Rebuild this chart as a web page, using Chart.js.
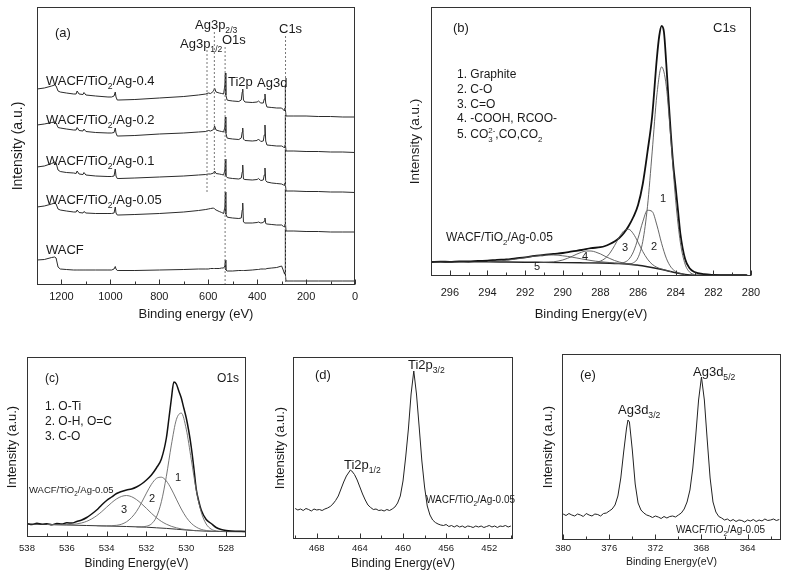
<!DOCTYPE html>
<html><head><meta charset="utf-8">
<script src="https://cdn.jsdelivr.net/npm/chart.js@4"></script>
<style>
html,body{margin:0;padding:0;background:#fff;}
body{width:788px;height:575px;position:relative;overflow:hidden;}
canvas{position:absolute;}
</style></head><body>
<canvas id="ca" width="370" height="325" style="left:0;top:0"></canvas>
<canvas id="cb" width="418" height="325" style="left:370px;top:0"></canvas>
<canvas id="cc" width="262" height="245" style="left:0;top:330px"></canvas>
<canvas id="cd" width="255" height="245" style="left:265px;top:330px"></canvas>
<canvas id="ce" width="263" height="245" style="left:525px;top:330px"></canvas>
<script>
const FONT = "'Liberation Sans', Arial, Helvetica, sans-serif";
const INK = '#1a1a1a';

// ---------- (a) survey spectra ----------
const surveyEnergy = [1300,1270,1240,1228,1222,1214,1205,1180,1150,1140,1136,1128,1112,1108,1100,1060,1010,995,985,980,977,972,965,900,800,700,640,610,600,590,578,574,568,555,545,537,532,530,528,523,515,500,475,465,461,459,456,450,420,400,395,385,375,371,368,365,360,340,320,300,292,288,286,285,284,282,270,250,200,150,100,50,0];
const surveyAg04 = [196,197,199,200,199,194,193,192,191,191,194,191,190.5,192.5,190,189,188,188,189,193,188,185,185,185.5,187,188.5,190,191,192,191.5,194,197,193,192,191.5,191,200,212,190,185,184.5,184,183.5,185,193,196,185,183,182.5,183,184,182,182,186,191,182,178,177.5,177,177,175,174,177,200,175,169,169,169,169,168.5,168.5,168,168];
const surveyAg02 = [160,161,162.5,163,162,157.5,157,156,155,155,157.5,154.5,154,156,153.5,152.5,152,152,152.5,157,152,149,149,149.5,151,152,153,153.5,154.5,154,155.5,159,155,154,153.5,153,158,168,152,147,146.5,146,145.5,147,153,157,146,144.5,144,144.5,146,143.5,144,150,160,144,140,139.5,139,139,138,137,140,170,140,134,134,134,133.5,133.5,133,133,132.5];
const surveyAg01 = [118,119,121.5,123,122,115,113.5,112.5,112,111.5,114,111,110.5,112.5,110,109,108.5,108.5,109,116,109,106.5,106.5,107,108,109,110,110.5,111,111,112,114,111.5,111,110.5,110,115,126,109,107.5,107,106.5,106,107,113,120,106,105.5,105,105.5,106.5,104.5,105,110,117,104.5,103,102,101.5,101,100,99.5,102,136,100,94,94,94,93.5,93.5,93,93,92.5];
const surveyAg005 = [78,79,81,82,81,76,75,74,73,73,75,72.5,72,73.5,72,71.5,71.5,71.5,72,78,72,70,70,70.5,71.5,73,74.5,75.5,76,76.5,77,76,75,73.5,72.5,71.5,78,93,71,68,67.5,67,66.5,67,75,82,63,62,62,62.5,63,62,62.5,64,67,61.5,61,60.5,60,60,58.5,58,61,96,62,54,54,54,53.5,53.5,53,53,53];
const surveyWACF = [25,25.5,27.5,28,27,18,16,15.5,15,15,15,15,15,15,15,15,15,15,16,18.5,16,14.5,14.5,14.5,15,15.5,16,16,16,16.5,16.5,16.5,16.5,16.5,17,17,19,25,15,14,14,14,14.5,14.5,14.5,14.5,14.5,14.5,15,15.5,15.5,16,16,16,16,16,16.5,17,17.5,19,14,11,13,56,10,4,4,4,4,4,4,4,4];
const surveyTicks = [1200,1000,800,600,400,200,0];
const surveyMinorTicks = [1300,1100,900,700,500,300,100];
const refLineEnergy = [605,575,531,284];
const refLineTop = [235,253,238,249];
const refLineBottom = [92,108,0,0];

// ---------- (b) C1s ----------
const c1sEnergy = [297,296.5,296,295.5,295,294.5,294,293.5,293,292.5,292,291.5,291,290.5,290,289.5,289,288.5,288,287.75,287.5,287.25,287,286.75,286.5,286.25,286,285.75,285.5,285.25,285,284.875,284.75,284.625,284.5,284.375,284.25,284.125,284,283.875,283.75,283.5,283.25,283,282.5,282,281.5,281,280.5,280.2];
const c1sEnvelope = [14.0,14.4,14.1,14.6,14.5,15.1,15.3,16.1,16.6,17.7,18.6,20.1,21.0,22.1,23.0,24.6,26.0,27.8,28.8,30.0,32.0,34.5,38.0,43.0,50.0,59.0,71.0,92.0,124.0,160.0,218.0,240.0,250.0,244.0,212.0,175.0,140.0,110.0,88.0,65.0,42.0,17.0,7.5,4.0,1.8,1.1,0.9,0.8,0.8,0.7];
const c1sBgEnergy = [297,296,295,294,293,292,291,290,289,288,287.5,287,286.5,286,285.5,285,284.5,284,283.5,283,282,281,280.2];
const c1sBackground = [14.3,14.3,14.3,14.2,14.0,13.8,13.6,13.4,13.2,13.0,12.8,12.4,11.8,10.8,9.3,7.5,5.5,3.2,1.5,0.8,0.7,0.7,0.7];
const c1sFitEnergy = [294,293.75,293.5,293.25,293,292.75,292.5,292.25,292,291.75,291.5,291.25,291,290.75,290.5,290.25,290,289.75,289.5,289.25,289,288.75,288.5,288.25,288,287.75,287.5,287.25,287,286.75,286.5,286.25,286,285.75,285.5,285.25,285,284.75,284.5,284.25,284,283.75,283.5,283.25,283];
const c1sGraphite = [null,null,null,null,null,null,null,null,null,null,null,null,null,null,null,null,null,null,null,null,null,null,null,null,null,null,null,null,12.4,12.2,12.2,13.2,18.4,34.5,69.4,124.1,181.1,209.1,189.8,134.8,75.2,33.2,11.8,3.7,1.35];
const c1sCO = [null,null,null,null,null,null,null,null,null,null,null,null,null,null,null,null,null,null,null,null,null,null,null,null,null,null,null,12.65,12.7,13.5,16.5,24.1,37.7,54.2,65.7,64.5,50.9,32.7,17.8,8.8,4.5,2.6,1.5,null,null];
const c1sCdO = [null,null,null,null,null,null,null,null,null,null,null,null,null,null,null,null,null,null,null,null,13.2,13.2,13.3,13.6,14.9,17.6,22.8,30.3,38.8,45.2,46.7,42.2,33.8,24.5,16.9,11.7,8.7,6.9,5.6,4.3,null,null,null,null,null];
const c1sCOOH = [null,null,null,null,null,null,null,null,null,null,13.7,13.75,13.7,13.9,14.2,14.9,16.0,17.7,19.7,21.9,23.8,25.0,25.0,23.9,22.1,19.7,17.5,15.5,14.0,12.9,12.2,11.5,10.9,null,null,null,null,null,null,null,null,null,null,null,null];
const c1sCO3 = [14.35,14.7,15.0,15.35,15.7,16.3,16.9,17.6,18.35,19.2,19.8,20.4,20.8,21.05,21.0,20.8,20.2,19.6,18.8,18.0,17.1,16.3,15.5,14.8,14.3,13.85,13.45,13.0,12.7,12.3,11.9,11.3,null,null,null,null,null,null,null,null,null,null,null,null,null];
const c1sTicks = [296,294,292,290,288,286,284,282,280];
const c1sMinorTicks = [297,295,293,291,289,287,285,283,281];

// ---------- (c) O1s ----------
const o1sEnergy = [538,537.75,537.5,537.25,537,536.75,536.5,536.25,536,535.75,535.5,535.25,535,534.75,534.5,534.25,534,533.75,533.5,533.25,533,532.75,532.5,532.25,532,531.75,531.5,531.25,531,530.875,530.75,530.625,530.5,530.375,530.25,530.125,530,529.875,529.75,529.625,529.5,529.375,529.25,529,528.75,528.5,528.25,528,527.75,527.5,527.25,527];
const o1sEnvelope = [13.5,12.5,13.8,12.8,13.2,12.2,13.6,13.0,14.2,14.0,15.5,17.0,19.5,23.0,27.0,32.0,36.5,40.0,43.5,45.5,47.0,48.0,50.0,53.0,57.0,62.0,69.0,78.0,99.0,118.0,138.0,155.0,153.0,146.0,139.0,129.0,119.0,106.0,90.0,70.0,48.0,36.0,27.0,17.5,13.5,9.5,7.5,6.5,6.0,5.8,5.7,5.6];
const o1sBgEnergy = [538,537,536,535,534,533,532,531.5,531,530.5,530,529.5,529,528.5,528,527];
const o1sBackground = [13.0,12.5,12.0,11.5,11.0,10.5,9.8,9.2,8.6,7.8,7.0,6.3,5.8,5.6,5.4,5.2];
const o1sFitEnergy = [537,536.75,536.5,536.25,536,535.75,535.5,535.25,535,534.75,534.5,534.25,534,533.75,533.5,533.25,533,532.75,532.5,532.25,532,531.75,531.5,531.25,531,530.75,530.5,530.25,530,529.75,529.5,529.25,529,528.75,528.5,528.25,528];
const o1sOTi = [null,null,null,null,null,null,null,null,null,null,null,null,null,null,null,null,null,null,10.0,10.1,10.8,13.1,20.0,35.3,60.7,91.9,117.3,123.9,107.8,77.6,46.9,24.9,13.0,7.9,6.15,5.6,5.4];
const o1sOH = [null,null,null,null,null,null,null,null,null,null,11.3,11.1,11.1,11.3,11.7,12.8,15.2,19.4,25.6,34.2,43.9,52.7,58.6,59.8,56.0,48.0,37.9,28.0,19.7,13.7,9.9,7.6,6.5,5.95,5.6,null,null];
const o1sCO = [12.5,12.4,12.3,12.3,12.3,12.6,13.1,14.1,15.7,18.1,21.3,25.3,29.8,34.3,38.1,40.6,41.5,40.3,37.4,33.3,28.6,23.7,19.3,15.6,12.8,10.7,9.2,8.1,7.3,6.75,6.3,null,null,null,null,null,null];
const o1sTicks = [538,536,534,532,530,528];
const o1sMinorTicks = [537,535,533,531,529,527];

// ---------- (d) Ti2p ----------
const ti2pEnergy = [470,469.75,469.5,469.25,469,468.75,468.5,468.25,468,467.75,467.5,467.25,467,466.75,466.5,466.25,466,465.75,465.5,465.25,465,464.875,464.75,464.5,464.25,464,463.75,463.5,463.25,463,462.75,462.5,462.25,462,461.75,461.5,461.25,461,460.75,460.5,460.25,460,459.75,459.5,459.25,459,458.75,458.5,458.25,458,457.75,457.5,457.25,457,456.75,456.5,456.25,456,455.75,455.5,455.25,455,454.75,454.5,454.25,454,453.75,453.5,453.25,453,452.75,452.5,452.25,452,451.75,451.5,451.25,451,450.75,450.5,450.25,450];
const ti2pIntensity = [30.5,29,30,28.5,30.5,29.5,28,30,29,29.5,28.5,30,31,32.5,35,38.5,43,50,57,63,67,69,68,64.5,59,52,45,39,34,31.5,29.5,30,28.5,29,28,29.5,28.5,30,32,36,43,58,82,110,145,168,145,112,78,52,33,24,19,16.5,15,14,13.5,14.5,12.5,13.5,12,13.5,12,13,11.5,13,12.5,11.5,13,12,13,11.5,12.5,13.5,12,13,11.5,13,12.5,13.5,12,13];
const ti2pTicks = [468,464,460,456,452];
const ti2pMinorTicks = [470,466,462,458,454,450];

// ---------- (e) Ag3d ----------
const ag3dEnergy = [380,379.75,379.5,379.25,379,378.75,378.5,378.25,378,377.75,377.5,377.25,377,376.75,376.5,376.25,376,375.75,375.5,375.25,375,374.75,374.5,374.375,374.25,374,373.75,373.5,373.25,373,372.75,372.5,372.25,372,371.75,371.5,371.25,371,370.75,370.5,370.25,370,369.75,369.5,369.25,369,368.75,368.5,368.25,368,367.75,367.5,367.25,367,366.75,366.5,366.25,366,365.75,365.5,365.25,365,364.75,364.5,364.25,364,363.75,363.5,363.25,363,362.75,362.5,362.25,362,361.75,361.5,361.25];
const ag3dIntensity = [26,24.5,26.5,25,24,26,25,23.5,26.5,25,24,26,25.5,24,26.5,27,29,31,35,44,62,88,112,120,118,90,56,37,30,27,25,24,22.5,24,23,21.5,23.5,22,23.5,24,23,25,27,31,38,50,72,104,140,163,140,100,62,38,28,23.5,22,20,21,19,20.5,18.5,20,19.5,18,20,19,20.5,18.5,20,19,21,19.5,20,21,19.5,20.5];
const ag3dTicks = [380,376,372,368,364];
const ag3dMinorTicks = [378,374,370,366,362];

// ---------- helpers ----------
function pts(xs, ys) { const o = []; xs.forEach((x, i) => { if (ys[i] !== null) o.push({x: x, y: ys[i]}); }); return o; }
function ds(data, color, width, extra) {
  return Object.assign({data: data, borderColor: color, borderWidth: width, pointRadius: 0, fill: false, tension: 0}, extra || {});
}
function parseRich(s) {
  const re = /(_\{[^}]*\}|\^\{[^}]*\})/g; const out = []; let last = 0, m;
  while ((m = re.exec(s))) {
    if (m.index > last) out.push({t: s.slice(last, m.index), k: 'n'});
    out.push({t: m[0].slice(2, -1), k: m[0][0] === '_' ? 'sub' : 'sup'});
    last = re.lastIndex;
  }
  if (last < s.length) out.push({t: s.slice(last), k: 'n'});
  return out;
}
function drawRich(ctx, s, x, y, size, center) {
  const segs = parseRich(s); const small = size * 0.66;
  ctx.textBaseline = 'middle';
  if (center) { ctx.textAlign = 'center'; ctx.font = size + 'px ' + FONT; ctx.fillText(s, x, y); return; }
  ctx.textAlign = 'left';
  let cx = x, prev = null;
  for (const g of segs) {
    if (g.k === 'n') {
      ctx.font = size + 'px ' + FONT; ctx.fillText(g.t, cx, y); cx += ctx.measureText(g.t).width; prev = null;
    } else {
      ctx.font = small + 'px ' + FONT; const w = ctx.measureText(g.t).width;
      const stacked = prev && prev.k !== g.k; const sx = stacked ? prev.x : cx;
      ctx.fillText(g.t, sx, y + (g.k === 'sub' ? size * 0.4 : -size * 0.38));
      if (stacked) { cx = Math.max(cx, sx + w); prev = null; } else { prev = {k: g.k, x: sx}; cx = sx + w; }
    }
  }
}
const framePlugin = {
  id: 'frame',
  afterDatasetsDraw(chart, args, opts) {
    const ctx = chart.ctx, a = chart.chartArea, xs = chart.scales.x;
    ctx.save();
    ctx.strokeStyle = '#333'; ctx.lineWidth = 1;
    const L = Math.round(a.left) + 0.5, T = Math.round(a.top) + 0.5, R = Math.round(a.right) - 0.5, B = Math.round(a.bottom) - 0.5;
    ctx.strokeRect(L, T, R - L, B - T);
    ctx.beginPath();
    (opts.major || []).forEach(v => { const p = Math.round(xs.getPixelForValue(v)) + 0.5; ctx.moveTo(p, B); ctx.lineTo(p, B - 5); });
    (opts.minor || []).forEach(v => { const p = Math.round(xs.getPixelForValue(v)) + 0.5; if (p > L && p < R) { ctx.moveTo(p, B); ctx.lineTo(p, B - 3); } });
    ctx.stroke();
    ctx.fillStyle = INK;
    (opts.labels || []).forEach(l => drawRich(ctx, l.t, l.x, l.y, l.s, l.c));
    ctx.restore();
  }
};
function makeChart(id, c) {
  return new Chart(document.getElementById(id), {
    type: 'line',
    data: {datasets: c.datasets},
    options: {
      responsive: false, animation: false, devicePixelRatio: 1,
      layout: {padding: c.pad},
      plugins: {legend: {display: false}, tooltip: {enabled: false}, frame: c.frame},
      scales: {
        x: {
          type: 'linear', reverse: true, min: c.xmin, max: c.xmax,
          grid: {display: false, drawTicks: false}, border: {display: false},
          afterBuildTicks: s => { s.ticks = c.ticks.map(v => ({value: v})); },
          afterFit: s => { s.height = c.xh; },
          ticks: {font: {family: FONT, size: c.tickSize}, color: INK, padding: c.tickPad, maxRotation: 0, autoSkip: false, callback: v => String(v)},
          title: {display: true, text: c.xtitle, color: INK, font: {family: FONT, size: c.xtitleSize}, padding: {top: 0, bottom: c.xtitlePad}}
        },
        y: {
          type: 'linear', min: 0, max: c.ymax,
          grid: {display: false, drawTicks: false}, border: {display: false},
          ticks: {display: false},
          afterFit: s => { s.width = c.yw; },
          title: {display: true, text: 'Intensity (a.u.)', color: INK, font: {family: FONT, size: c.ytitleSize}, padding: {top: c.ytitlePad, bottom: 0}}
        }
      }
    },
    plugins: [framePlugin]
  });
}

// ---------- (a) ----------
const SURV = '#2b2b2b';
const refSets = refLineEnergy.map((e, i) => ds([{x: e, y: refLineTop[i]}, {x: e, y: refLineBottom[i]}], '#777', 1, {borderDash: [2, 2]}));
makeChart('ca', {
  datasets: refSets.concat([
    ds(pts(surveyEnergy, surveyAg04), SURV, 1),
    ds(pts(surveyEnergy, surveyAg02), SURV, 1),
    ds(pts(surveyEnergy, surveyAg01), SURV, 1),
    ds(pts(surveyEnergy, surveyAg005), SURV, 1),
    ds(pts(surveyEnergy, surveyWACF), SURV, 1)
  ]),
  pad: {left: 0, top: 7, right: 15, bottom: 0},
  xmin: 0, xmax: 1300, ticks: surveyTicks, xh: 40, tickSize: 11, tickPad: 5.4,
  xtitle: 'Binding energy (eV)', xtitleSize: 13, xtitlePad: 3.2,
  ymax: 278, yw: 37, ytitleSize: 14, ytitlePad: 9.9,
  frame: {major: surveyTicks, minor: surveyMinorTicks, labels: [
    {t: '(a)', x: 55, y: 33, s: 13},
    {t: 'Ag3p_{2/3}', x: 195, y: 25, s: 13},
    {t: 'Ag3p_{1/2}', x: 180, y: 44, s: 13},
    {t: 'O1s', x: 222, y: 40, s: 13},
    {t: 'C1s', x: 279, y: 29, s: 13},
    {t: 'Ti2p', x: 228, y: 82, s: 13},
    {t: 'Ag3d', x: 257, y: 83, s: 13},
    {t: 'WACF/TiO_{2}/Ag-0.4', x: 46, y: 81, s: 13},
    {t: 'WACF/TiO_{2}/Ag-0.2', x: 46, y: 120, s: 13},
    {t: 'WACF/TiO_{2}/Ag-0.1', x: 46, y: 161, s: 13},
    {t: 'WACF/TiO_{2}/Ag-0.05', x: 46, y: 200, s: 13},
    {t: 'WACF', x: 46, y: 250, s: 13}
  ]}
});

// ---------- (b) ----------
const FIT = '#555';
makeChart('cb', {
  datasets: [
    ds(pts(c1sFitEnergy, c1sGraphite), FIT, 0.9, {cubicInterpolationMode: 'monotone'}),
    ds(pts(c1sFitEnergy, c1sCO), FIT, 0.9, {cubicInterpolationMode: 'monotone'}),
    ds(pts(c1sFitEnergy, c1sCdO), FIT, 0.9, {cubicInterpolationMode: 'monotone'}),
    ds(pts(c1sFitEnergy, c1sCOOH), FIT, 0.9, {cubicInterpolationMode: 'monotone'}),
    ds(pts(c1sFitEnergy, c1sCO3), FIT, 0.9, {cubicInterpolationMode: 'monotone'}),
    ds(pts(c1sBgEnergy, c1sBackground), '#222', 1.4, {cubicInterpolationMode: 'monotone'}),
    ds(pts(c1sEnergy, c1sEnvelope), '#111', 1.8, {cubicInterpolationMode: 'monotone'})
  ],
  pad: {left: 0, top: 7, right: 37, bottom: 0},
  xmin: 280, xmax: 297, ticks: c1sTicks, xh: 49, tickSize: 11, tickPad: 10,
  xtitle: 'Binding Energy(eV)', xtitleSize: 13, xtitlePad: 3.2,
  ymax: 269, yw: 61, ytitleSize: 13.5, ytitlePad: 36.9,
  frame: {major: c1sTicks, minor: c1sMinorTicks, labels: [
    {t: '(b)', x: 83, y: 28, s: 13},
    {t: 'C1s', x: 343, y: 28, s: 13},
    {t: '1. Graphite', x: 87, y: 75, s: 12},
    {t: '2. C-O', x: 87, y: 89.5, s: 12},
    {t: '3. C=O', x: 87, y: 104.5, s: 12},
    {t: '4. -COOH, RCOO-', x: 87, y: 119, s: 12},
    {t: '5. CO_{3}^{2-},CO,CO_{2}', x: 87, y: 135, s: 12},
    {t: 'WACF/TiO_{2}/Ag-0.05', x: 76, y: 238, s: 12},
    {t: '1', x: 293, y: 199, s: 11, c: true},
    {t: '2', x: 284, y: 247, s: 11, c: true},
    {t: '3', x: 255, y: 248, s: 11, c: true},
    {t: '4', x: 215, y: 257, s: 11, c: true},
    {t: '5', x: 167, y: 267, s: 11, c: true}
  ]}
});

// ---------- (c) ----------
makeChart('cc', {
  datasets: [
    ds(pts(o1sFitEnergy, o1sOTi), '#666', 0.9, {cubicInterpolationMode: 'monotone'}),
    ds(pts(o1sFitEnergy, o1sOH), '#666', 0.9, {cubicInterpolationMode: 'monotone'}),
    ds(pts(o1sFitEnergy, o1sCO), '#666', 0.9, {cubicInterpolationMode: 'monotone'}),
    ds(pts(o1sBgEnergy, o1sBackground), '#333', 1, {cubicInterpolationMode: 'monotone'}),
    ds(pts(o1sEnergy, o1sEnvelope), '#111', 1.5, {cubicInterpolationMode: 'monotone'})
  ],
  pad: {left: 0, top: 27, right: 16, bottom: 0},
  xmin: 527, xmax: 538, ticks: o1sTicks, xh: 38, tickSize: 9.5, tickPad: 5.3,
  xtitle: 'Binding Energy(eV)', xtitleSize: 12, xtitlePad: 3.8,
  ymax: 180, yw: 27, ytitleSize: 13, ytitlePad: 4.5,
  frame: {major: o1sTicks, minor: o1sMinorTicks, labels: [
    {t: '(c)', x: 45, y: 49, s: 12},
    {t: 'O1s', x: 217, y: 49, s: 12},
    {t: '1. O-Ti', x: 45, y: 77, s: 12},
    {t: '2. O-H, O=C', x: 45, y: 91.5, s: 12},
    {t: '3. C-O', x: 45, y: 106.5, s: 12},
    {t: 'WACF/TiO_{2}/Ag-0.05', x: 29, y: 160, s: 9.5},
    {t: '1', x: 178, y: 148, s: 11, c: true},
    {t: '2', x: 152, y: 169, s: 11, c: true},
    {t: '3', x: 124, y: 180, s: 11, c: true}
  ]}
});

// ---------- (d) ----------
makeChart('cd', {
  datasets: [ds(pts(ti2pEnergy, ti2pIntensity), '#222', 1)],
  pad: {left: 0, top: 27, right: 7, bottom: 0},
  xmin: 449.8, xmax: 470.2, ticks: ti2pTicks, xh: 36, tickSize: 9.5, tickPad: 3.3,
  xtitle: 'Binding Energy(eV)', xtitleSize: 12, xtitlePad: 3.8,
  ymax: 182, yw: 28, ytitleSize: 13, ytitlePad: 7.2,
  frame: {major: ti2pTicks, minor: ti2pMinorTicks, labels: [
    {t: '(d)', x: 50, y: 45, s: 13},
    {t: 'Ti2p_{3/2}', x: 143, y: 35, s: 13},
    {t: 'Ti2p_{1/2}', x: 79, y: 135, s: 13},
    {t: 'WACF/TiO_{2}/Ag-0.05', x: 161, y: 170, s: 10}
  ]}
});

// ---------- (e) ----------
makeChart('ce', {
  datasets: [ds(pts(ag3dEnergy, ag3dIntensity), '#222', 1)],
  pad: {left: 0, top: 24, right: 7, bottom: 0},
  xmin: 361.1, xmax: 380.1, ticks: ag3dTicks, xh: 35, tickSize: 9.5, tickPad: 2.3,
  xtitle: 'Binding Energy(eV)', xtitleSize: 10.5, xtitlePad: 7,
  ymax: 186, yw: 37, ytitleSize: 13, ytitlePad: 15.5,
  frame: {major: ag3dTicks, minor: ag3dMinorTicks, labels: [
    {t: '(e)', x: 55, y: 45, s: 13},
    {t: 'Ag3d_{5/2}', x: 168, y: 42, s: 13},
    {t: 'Ag3d_{3/2}', x: 93, y: 80, s: 13},
    {t: 'WACF/TiO_{2}/Ag-0.05', x: 151, y: 200, s: 10}
  ]}
});
</script>
</body></html>
